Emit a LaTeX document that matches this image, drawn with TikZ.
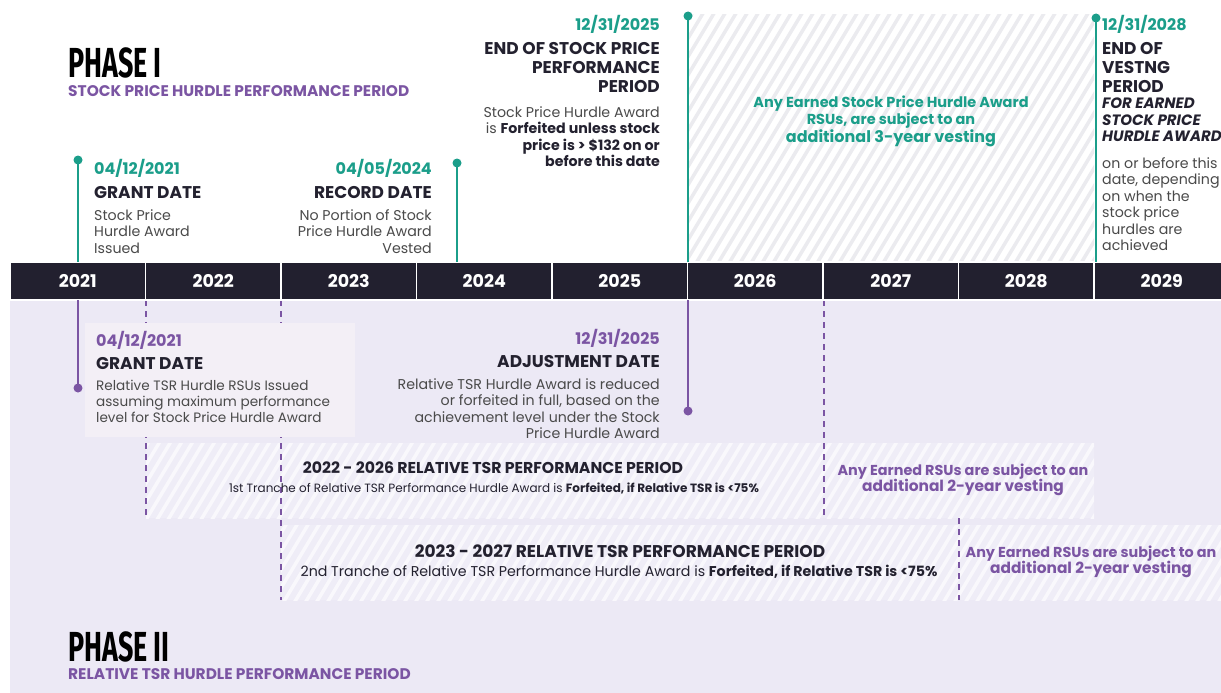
\documentclass[tikz,border=0pt]{standalone}
\usepackage{fontspec}
\setmainfont{Poppins}
\newfontfamily\phasefont{Fira Sans}[FakeStretch=0.64]
\usetikzlibrary{positioning}
\definecolor{HurdleTeal}{HTML}{1B9E8A}
\definecolor{TsrPurple}{HTML}{7B55A3}
\definecolor{BarDark}{HTML}{22202F}
\definecolor{InkDark}{HTML}{23212F}
\definecolor{BodyGrey}{HTML}{4A4A4A}
\definecolor{Lavender}{HTML}{ECE9F5}
\definecolor{BandBase}{HTML}{EFEDF7}
\definecolor{BandStripe}{HTML}{F9F8FC}
\definecolor{GrantBox}{HTML}{F3EFF6}
\definecolor{HatchGrey}{HTML}{EBEBEF}

% striped area: x1 y1 x2 y2 base stripe
\newcommand{\hatcharea}[6]{%
  \begin{scope}
    \clip (#1,#2) rectangle (#3,#4);
    \fill[#5] (#1,#2) rectangle (#3,#4);
    \foreach \s in {-420,-409,...,1230}
      \draw[#6, line width=3.5pt] (\s,693) -- ++(416,-693);
  \end{scope}}

\begin{document}
\begin{tikzpicture}[
  x=1pt, y=-1pt,
  datelbl/.style={inner sep=0pt, font=\fontsize{16}{18}\selectfont\bfseries},
  headlbl/.style={inner sep=0pt, text=InkDark, font=\fontsize{17}{19}\selectfont\bfseries},
  bodylbl/.style={inner sep=0pt, text=BodyGrey, font=\fontsize{14.2}{16.5}\selectfont},
  phaselbl/.style={inner sep=0pt, text=black, font=\fontsize{42}{42}\phasefont\bfseries},
  phasesub/.style={inner sep=0pt, text=TsrPurple, font=\fontsize{15.4}{16}\selectfont\bfseries},
  yearcell/.style={rectangle, fill=BarDark, draw=white, line width=1.2pt,
    minimum width=135.5pt, minimum height=38pt, text=white,
    font=\fontsize{17.5}{18}\selectfont\bfseries},
  dot/.style={circle, inner sep=0pt, minimum size=9pt},
  tealline/.style={HurdleTeal, line width=2.2pt},
  purpleline/.style={TsrPurple, line width=2.2pt},
  dashline/.style={TsrPurple, line width=2pt, dash pattern=on 6pt off 5pt}
]
\useasboundingbox (0,0) rectangle (1221,693);
\fill[white] (0,0) rectangle (1221,693);
\fill[Lavender] (10,300) rectangle (1221,693);

% hatched periods
\hatcharea{688}{15}{1094}{262}{white}{HatchGrey}
\hatcharea{146}{443}{1094}{518}{BandBase}{BandStripe}
\hatcharea{281}{525}{1221}{600}{BandBase}{BandStripe}

% tranche boundaries
\coordinate (d1a) at (146,300); \coordinate (d1b) at (146,518);
\coordinate (d2a) at (281,300); \coordinate (d2b) at (281,600);
\coordinate (d3a) at (824,300); \coordinate (d3b) at (824,518);
\coordinate (d4a) at (959,518); \coordinate (d4b) at (959,600);
\draw[dashline] (d1a) -- (d1b);
\draw[dashline] (d2a) -- (d2b);
\draw[dashline] (d3a) -- (d3b);
\draw[dashline] (d4a) -- (d4b);

\fill[GrantBox] (85,323) rectangle (355,437);

% year bar
\foreach \yr [count=\i from 0] in {2021,...,2029}
  \node[yearcell] (y\yr) at ({77.75+135.5*\i},281) {\yr};

% phase I milestones
\node[dot, fill=HurdleTeal] (tgdot) at (78,160) {};
\node[dot, fill=HurdleTeal] (trdot) at (457,163) {};
\node[dot, fill=HurdleTeal] (tedot) at (688,16) {};
\node[dot, fill=HurdleTeal] (tvdot) at (1096,18) {};
\coordinate (tgbar) at (78,262);
\coordinate (trbar) at (457,262);
\coordinate (tebar) at (688,262);
\coordinate (tvbar) at (1096,262);
\draw[tealline] (tgdot.center) -- (tgbar);
\draw[tealline] (trdot.center) -- (trbar);
\draw[tealline] (tedot.center) -- (tebar);
\draw[tealline] (tvdot.center) -- (tvbar);

% phase II milestones
\coordinate (bgbar) at (78,300);
\coordinate (babar) at (688,300);
\node[dot, fill=TsrPurple] (bgdot) at (78,388) {};
\node[dot, fill=TsrPurple] (badot) at (688,411) {};
\draw[purpleline] (bgbar) -- (bgdot.center);
\draw[purpleline] (babar) -- (badot.center);

% titles
\node[phaselbl, anchor=north west] (ph1) at (68,47) {PHASE I};
\node[phasesub, anchor=north west] (ph1sub) at (68,85) {STOCK PRICE HURDLE PERFORMANCE PERIOD};
\node[phaselbl, anchor=north west] (ph2) at (68,631) {PHASE II};
\node[phasesub, anchor=north west] (ph2sub) at (68,668) {RELATIVE TSR HURDLE PERFORMANCE PERIOD};

% grant date (stock price)
\node[datelbl, text=HurdleTeal, anchor=north west] (tgdate) at (94,159) {04/12/2021};
\node[headlbl, anchor=north west] (tghead) at (94,186) {GRANT DATE};
\node[bodylbl, anchor=north west, align=left] (tgbody) at (94,209)
  {Stock Price\\Hurdle Award\\Issued};

% record date
\node[datelbl, text=HurdleTeal, anchor=north east] (trdate) at (432,159) {04/05/2024};
\node[headlbl, anchor=north east] (trhead) at (432,186) {RECORD DATE};
\node[bodylbl, anchor=north east, align=right] (trbody) at (432,209)
  {No Portion of Stock\\Price Hurdle Award\\Vested};

% end of stock price period
\node[datelbl, text=HurdleTeal, anchor=north east] (tedate) at (660,15) {12/31/2025};
\node[headlbl, anchor=north east, align=right] (tehead) at (660,42)
  {END OF STOCK PRICE\\PERFORMANCE\\PERIOD};
\node[bodylbl, anchor=north east, align=right] (tebody) at (660,106)
  {Stock Price Hurdle Award\\is \textcolor{InkDark}{\bfseries Forfeited unless stock}\\
   \textcolor{InkDark}{\bfseries price is > \$132 on or}\\
   \textcolor{InkDark}{\bfseries before this date}};

% vesting note
\node[inner sep=0pt, text=HurdleTeal, align=center, anchor=north,
  font=\fontsize{14.5}{16.5}\selectfont\bfseries] (tvnote) at (891,96)
  {Any Earned Stock Price Hurdle Award\\RSUs, are subject to an\\[1pt]
   {\fontsize{16}{18}\selectfont additional 3-year vesting}};

% end of vesting period
\node[datelbl, text=HurdleTeal, anchor=north west] (tvdate) at (1102,15) {12/31/2028};
\node[headlbl, anchor=north west, align=left] (tvhead) at (1102,42)
  {END OF\\VESTNG\\PERIOD};
\node[headlbl, anchor=north west, align=left,
  font=\fontsize{15}{16.5}\selectfont\bfseries\itshape] (tvsub) at (1102,98)
  {FOR EARNED\\STOCK PRICE\\HURDLE AWARD};
\node[bodylbl, anchor=north west, align=left] (tvbody) at (1102,157)
  {on or before this\\date, depending\\on when the\\stock price\\hurdles are\\achieved};

% grant date (relative TSR)
\node[datelbl, text=TsrPurple, anchor=north west] (bgdate) at (96,331) {04/12/2021};
\node[headlbl, anchor=north west] (bghead) at (96,357) {GRANT DATE};
\node[bodylbl, anchor=north west, align=left, font=\fontsize{13.6}{16}\selectfont] (bgbody) at (96,380)
  {Relative TSR Hurdle RSUs Issued\\assuming maximum performance\\level for Stock Price Hurdle Award};

% adjustment date
\node[datelbl, text=TsrPurple, anchor=north east] (badate) at (660,329) {12/31/2025};
\node[headlbl, anchor=north east] (bahead) at (660,355) {ADJUSTMENT DATE};
\node[bodylbl, anchor=north east, align=right] (babody) at (660,378)
  {Relative TSR Hurdle Award is reduced\\or forfeited in full, based on the\\
   achievement level under the Stock\\Price Hurdle Award};

% tranche 1
\node[inner sep=0pt, text=InkDark, font=\fontsize{15.7}{17}\selectfont\bfseries] (t1title) at (493,468)
  {2022 - 2026 RELATIVE TSR PERFORMANCE PERIOD};
\node[inner sep=0pt, text=InkDark, font=\fontsize{12}{14}\selectfont] (t1sub) at (494,488)
  {1st Tranche of Relative TSR Performance Hurdle Award is \textbf{Forfeited, if Relative TSR is <75\%}};
\node[inner sep=0pt, text=TsrPurple, align=center, font=\fontsize{14.4}{16.5}\selectfont\bfseries] (t1vest) at (963,480)
  {Any Earned RSUs are subject to an\\{\fontsize{15.4}{17}\selectfont additional 2-year vesting}};

% tranche 2
\node[inner sep=0pt, text=InkDark, font=\fontsize{17}{19}\selectfont\bfseries] (t2title) at (620,551)
  {2023 - 2027 RELATIVE TSR PERFORMANCE PERIOD};
\node[inner sep=0pt, text=InkDark, font=\fontsize{14.2}{16}\selectfont] (t2sub) at (619,572)
  {2nd Tranche of Relative TSR Performance Hurdle Award is \textbf{Forfeited, if Relative TSR is <75\%}};
\node[inner sep=0pt, text=TsrPurple, align=center, font=\fontsize{14.4}{16.5}\selectfont\bfseries] (t2vest) at (1091,562)
  {Any Earned RSUs are subject to an\\{\fontsize{15.4}{17}\selectfont additional 2-year vesting}};
\end{tikzpicture}
\end{document}
